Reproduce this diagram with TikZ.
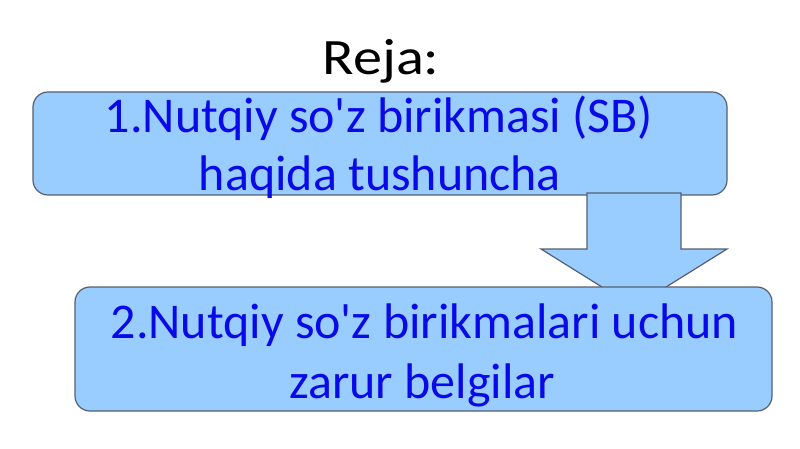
\documentclass[tikz,border=0pt]{standalone}
\usepackage{fontspec}
\setmainfont{Carlito}
\newfontfamily\titlefont[FakeStretch=1.14]{Carlito}
\definecolor{planfill}{RGB}{153,204,255}
\definecolor{planline}{RGB}{85,95,110}
\definecolor{plantext}{RGB}{10,10,230}
\tikzset{
  planbox/.style={draw=planline, fill=planfill, line width=1.2pt, rounded corners=15pt,
    align=center, text=plantext, inner sep=0pt},
  planarrow/.style={draw=planline, fill=planfill, line width=1.2pt, line join=miter}
}
\begin{document}
\begin{tikzpicture}[x=1pt,y=-1pt]
\useasboundingbox (0,0) rectangle (800,449);

%title
\node (title) at (381,75) [anchor=base] {\titlefont\fontsize{51}{60}\selectfont Reja:};

%first point
\node[planbox, minimum width=694pt, minimum height=103pt] (plan1) at (380,143.5) {};
\node[text=plantext] (text1a) at (379,133) [anchor=base] {\fontsize{50}{57}\selectfont 1.Nutqiy so\textquotesingle z birikmasi (SB)};
\node[text=plantext] (text1b) at (380,190) [anchor=base] {\fontsize{50}{57}\selectfont haqida tushuncha};

%arrow between them
\draw[planarrow] (587,193) -- (587,249) -- (541,249) -- (634,307) -- (727,249) -- (681,249) -- (681,193) -- cycle;

%second point
\node[planbox, minimum width=697pt, minimum height=124pt] (plan2) at (423.5,349) {};
\node[text=plantext] (text2a) at (424.5,338) [anchor=base] {\fontsize{50}{60}\selectfont 2.Nutqiy so\textquotesingle z birikmalari uchun};
\node[text=plantext] (text2b) at (422,398) [anchor=base] {\fontsize{50}{60}\selectfont zarur belgilar};
\end{tikzpicture}
\end{document}
